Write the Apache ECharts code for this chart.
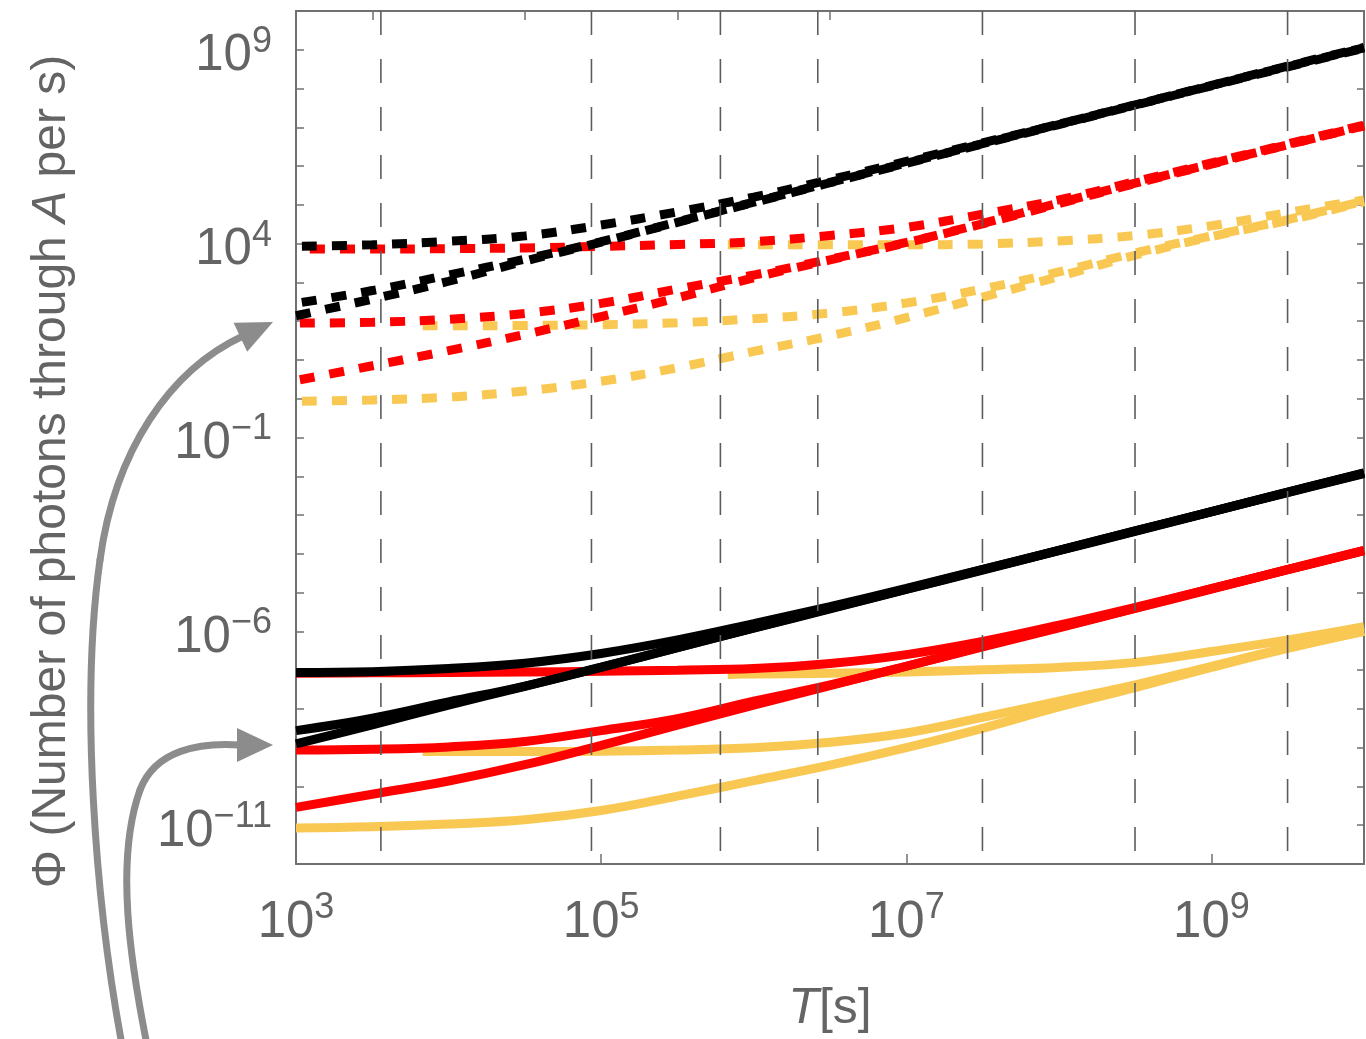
<!DOCTYPE html>
<html>
<head>
<meta charset="utf-8">
<script src="https://cdn.jsdelivr.net/npm/echarts@6/dist/echarts.min.js"></script>
<style>
  html, body { margin: 0; padding: 0; background: #ffffff; }
  #main { width: 1366px; height: 1039px; }
</style>
</head>
<body>
<div id="main"></div>
<script>
// All positions on both axes are decimal exponents: x = log10(T / s), y = log10(Φ).
const logT = [3, 3.5, 4, 4.5, 5, 5.5, 6, 6.5, 7, 7.5, 8, 8.5, 9, 9.5, 10];
const logTYellowMid = [3.83, 4, 4.5, 5, 5.5, 6, 6.5, 7, 7.5, 8, 8.5, 9, 9.5, 10];
const logTYellowTop = [5.83, 6, 6.5, 7, 7.5, 8, 8.5, 9, 9.5, 10];

// Upper family (dashed)
const blackDashHigh = [3.93, 3.97, 4.06, 4.2, 4.48, 4.82, 5.2, 5.65, 6.12, 6.6, 7.08, 7.58, 8.08, 8.58, 9.06];
const blackDashMid  = [2.46, 2.79, 3.19, 3.6, 4.05, 4.56, 5.07, 5.58, 6.08, 6.58, 7.08, 7.58, 8.08, 8.57, 9.05];
const blackDashLow  = [2.14, 2.57, 3.03, 3.55, 4.04, 4.55, 5.06, 5.57, 6.07, 6.57, 7.07, 7.57, 8.07, 8.56, 9.04];
const redDashHigh   = [3.86, 3.86, 3.87, 3.89, 3.93, 3.98, 4.05, 4.21, 4.42, 4.76, 5.13, 5.6, 6.08, 6.57, 7.06];
const redDashMid    = [1.95, 1.97, 2.05, 2.2, 2.46, 2.83, 3.19, 3.6, 4.03, 4.52, 5.05, 5.56, 6.06, 6.55, 7.04];
const redDashLow    = [0.47, 0.85, 1.24, 1.66, 2.12, 2.6, 3.12, 3.58, 4.02, 4.51, 5.03, 5.55, 6.05, 6.55, 7.04];
const yellowDashHigh = [3.97, 3.97, 3.97, 3.97, 3.99, 4.07, 4.21, 4.46, 4.8, 5.13];
const yellowDashMid  = [1.88, 1.88, 1.89, 1.91, 1.96, 2.06, 2.21, 2.47, 2.83, 3.27, 3.76, 4.2, 4.62, 5.1];
const yellowDashLow  = [-0.07, -0.03, 0.04, 0.2, 0.45, 0.8, 1.22, 1.62, 2.09, 2.62, 3.15, 3.7, 4.18, 4.6, 5.08];

// Lower family (solid)
const blackSolidHigh = [-7.06, -7.04, -6.96, -6.82, -6.57, -6.22, -5.8, -5.36, -4.89, -4.4, -3.91, -3.41, -2.91, -2.41, -1.91];
const blackSolidMid  = [-8.56, -8.24, -7.82, -7.41, -6.92, -6.42, -5.91, -5.41, -4.91, -4.41, -3.91, -3.41, -2.91, -2.41, -1.92];
const blackSolidLow  = [-8.9, -8.41, -7.9, -7.42, -6.93, -6.42, -5.92, -5.42, -4.92, -4.42, -3.92, -3.42, -2.92, -2.42, -1.93];
const redSolidHigh   = [-7.08, -7.07, -7.06, -7.05, -7.03, -7.0, -6.96, -6.83, -6.6, -6.26, -5.84, -5.38, -4.9, -4.4, -3.91];
const redSolidMid    = [-9.06, -9.04, -8.98, -8.84, -8.56, -8.25, -7.8, -7.38, -6.9, -6.39, -5.9, -5.4, -4.9, -4.41, -3.92];
const redSolidLow    = [-10.54, -10.2, -9.86, -9.44, -8.94, -8.42, -7.9, -7.4, -6.9, -6.4, -5.91, -5.41, -4.91, -4.41, -3.92];
const yellowSolidHigh = [-7.11, -7.1, -7.08, -7.05, -6.99, -6.93, -6.8, -6.52, -6.22, -5.88];
const yellowSolidMid  = [-9.1, -9.1, -9.1, -9.09, -9.06, -9.0, -8.86, -8.62, -8.22, -7.8, -7.38, -6.9, -6.42, -6.0];
const yellowSolidLow  = [-11.07, -11.04, -10.97, -10.86, -10.62, -10.25, -9.85, -9.45, -9.0, -8.5, -7.95, -7.45, -6.93, -6.44, -6.0];

// Reference durations (s): hour, day, week, month, year, decade, century
const timeMarks = [3600, 86400, 604800, 2629800, 31557600, 315576000, 3155760000];

// Axis ranges and tick positions (exponents)
const xRange = [3, 10];
const yRange = [-12, 10];
const xLabelExps = [3, 5, 7, 9];
const xTickExps = [5, 7, 9];
const topTickExps = [3.5, 4.5, 5.5, 6.5];
const yLabelExps = [-11, -6, -1, 4, 9];

const BLACK = '#000000', RED = '#ff0000', YELLOW = '#f8c853';
const FRAME = '#707070', TEXT = '#646464', FONT = 'Liberation Sans, Arial, sans-serif';

function curve(xs, ys, color, dashed, offset) {
  return {
    type: 'line',
    data: ys.map((v, i) => [xs[i], v]),
    symbol: 'none',
    smooth: 0.4,
    silent: true,
    lineStyle: {
      color: color,
      width: 9,
      cap: 'butt',
      type: dashed ? [15, 15] : 'solid',
      dashOffset: offset || 0
    },
    z: 3
  };
}

function gridMark(t) {
  const x = Math.log10(t);
  return {
    type: 'line',
    data: [[x, yRange[1]], [x, yRange[0]]],
    symbol: 'none',
    silent: true,
    lineStyle: { color: '#5c5c5c', width: 1.6, type: [24, 24] },
    z: 4
  };
}

function powLabel(v) {
  const n = Math.round(v);
  return '{b|10}{s|' + (n < 0 ? '\u2212' + (-n) : String(n)) + '}';
}

const labelRich = {
  b: { fontSize: 51, fontFamily: FONT, color: TEXT, lineHeight: 64, verticalAlign: 'bottom' },
  s: { fontSize: 36, fontFamily: FONT, color: TEXT, lineHeight: 42, padding: [6, 0, 0, 0], verticalAlign: 'top' }
};

const series = [
  // yellow underneath, then red, then black on top
  curve(logTYellowTop, yellowDashHigh, YELLOW, true, 0),
  curve(logTYellowMid, yellowDashMid, YELLOW, true, 0),
  curve(logT, yellowDashLow, YELLOW, true, 24),
  curve(logTYellowTop, yellowSolidHigh, YELLOW, false),
  curve(logTYellowMid, yellowSolidMid, YELLOW, false),
  curve(logT, yellowSolidLow, YELLOW, false),
  curve(logT, redDashHigh, RED, true, 16),
  curve(logT, redDashMid, RED, true, 26),
  curve(logT, redDashLow, RED, true, 26),
  curve(logT, redSolidHigh, RED, false),
  curve(logT, redSolidMid, RED, false),
  curve(logT, redSolidLow, RED, false),
  curve(logT, blackDashHigh, BLACK, true, 24),
  curve(logT, blackDashMid, BLACK, true, 24),
  curve(logT, blackDashLow, BLACK, true, 0),
  curve(logT, blackSolidHigh, BLACK, false),
  curve(logT, blackSolidMid, BLACK, false),
  curve(logT, blackSolidLow, BLACK, false)
].concat(timeMarks.map(gridMark));

const frameLine = { show: true, onZero: false, lineStyle: { color: FRAME, width: 2 } };

const option = {
  animation: false,
  backgroundColor: '#ffffff',
  grid: { left: 296, top: 11, width: 1068, height: 854, containLabel: false },
  xAxis: [
    {
      type: 'value', position: 'bottom', min: xRange[0], max: xRange[1], interval: 2,
      axisLine: frameLine,
      axisTick: { show: true, inside: true, length: 10, customValues: xTickExps, lineStyle: { color: FRAME, width: 1.5 } },
      splitLine: { show: false },
      axisLabel: {
        customValues: xLabelExps, showMinLabel: true, margin: 20,
        formatter: v => (xLabelExps.indexOf(Math.round(v * 100) / 100) >= 0 ? powLabel(v) : ''),
        rich: labelRich
      },
      name: '{i|T}{r|[s]}', nameLocation: 'middle', nameGap: 120,
      nameTextStyle: {
        rich: {
          i: { fontSize: 50, fontFamily: FONT, color: TEXT, fontStyle: 'italic' },
          r: { fontSize: 50, fontFamily: FONT, color: TEXT }
        }
      }
    },
    {
      type: 'value', position: 'top', min: xRange[0], max: xRange[1],
      axisLine: frameLine,
      axisTick: { show: true, inside: true, length: 9, customValues: topTickExps, lineStyle: { color: FRAME, width: 1.5 } },
      axisLabel: { show: false },
      splitLine: { show: false }
    }
  ],
  yAxis: [
    {
      type: 'value', position: 'left', min: yRange[0], max: yRange[1], interval: 1,
      axisLine: frameLine,
      axisTick: { show: true, inside: true, length: 8, lineStyle: { color: FRAME, width: 1.5 } },
      splitLine: { show: false },
      axisLabel: {
        customValues: yLabelExps, margin: 24,
        formatter: v => (yLabelExps.indexOf(Math.round(v)) >= 0 && Math.abs(v - Math.round(v)) < 1e-6 ? powLabel(v) : ''),
        rich: labelRich
      },
      name: '{r|\u03A6 (Number of photons through }{i|A}{r| per s)}',
      nameLocation: 'middle', nameGap: 220, nameRotate: 90,
      nameTextStyle: {
        padding: [0, 68, 0, 0],
        rich: {
          i: { fontSize: 48, fontFamily: FONT, color: TEXT, fontStyle: 'italic' },
          r: { fontSize: 48, fontFamily: FONT, color: TEXT }
        }
      }
    },
    {
      type: 'value', position: 'right', min: yRange[0], max: yRange[1], interval: 1,
      axisLine: frameLine,
      axisTick: { show: true, inside: true, length: 7, lineStyle: { color: FRAME, width: 1.5 } },
      axisLabel: { show: false },
      splitLine: { show: false }
    }
  ],
  series: series,
  graphic: [
    // curved pointer arrows at the left margin
    { type: 'bezierCurve', shape: { x1: 122, y1: 1045, cpx1: 95, cpy1: 900, cpx2: 80, cpy2: 700, x2: 100, y2: 560 },
      style: { stroke: '#8c8c8c', lineWidth: 7, fill: null, lineCap: 'round' }, z: 100 },
    { type: 'bezierCurve', shape: { x1: 100, y1: 560, cpx1: 115, cpy1: 450, cpx2: 170, cpy2: 370, x2: 243, y2: 336 },
      style: { stroke: '#8c8c8c', lineWidth: 7, fill: null, lineCap: 'round' }, z: 100 },
    { type: 'polygon', shape: { points: [[273, 322], [233.6, 322.7], [247.2, 351.7]] },
      style: { fill: '#8c8c8c' }, z: 100 },
    { type: 'bezierCurve', shape: { x1: 147, y1: 1045, cpx1: 130, cpy1: 960, cpx2: 115, cpy2: 860, x2: 140, y2: 790 },
      style: { stroke: '#8c8c8c', lineWidth: 7, fill: null, lineCap: 'round' }, z: 100 },
    { type: 'bezierCurve', shape: { x1: 140, y1: 790, cpx1: 155, cpy1: 750, cpx2: 200, cpy2: 742, x2: 240, y2: 745 },
      style: { stroke: '#8c8c8c', lineWidth: 7, fill: null, lineCap: 'round' }, z: 100 },
    { type: 'polygon', shape: { points: [[273, 745], [237, 728], [237, 762]] },
      style: { fill: '#8c8c8c' }, z: 100 }
  ]
};

const chart = echarts.init(document.getElementById('main'), null, { renderer: 'canvas', width: 1366, height: 1039 });
chart.setOption(option);
</script>
</body>
</html>
